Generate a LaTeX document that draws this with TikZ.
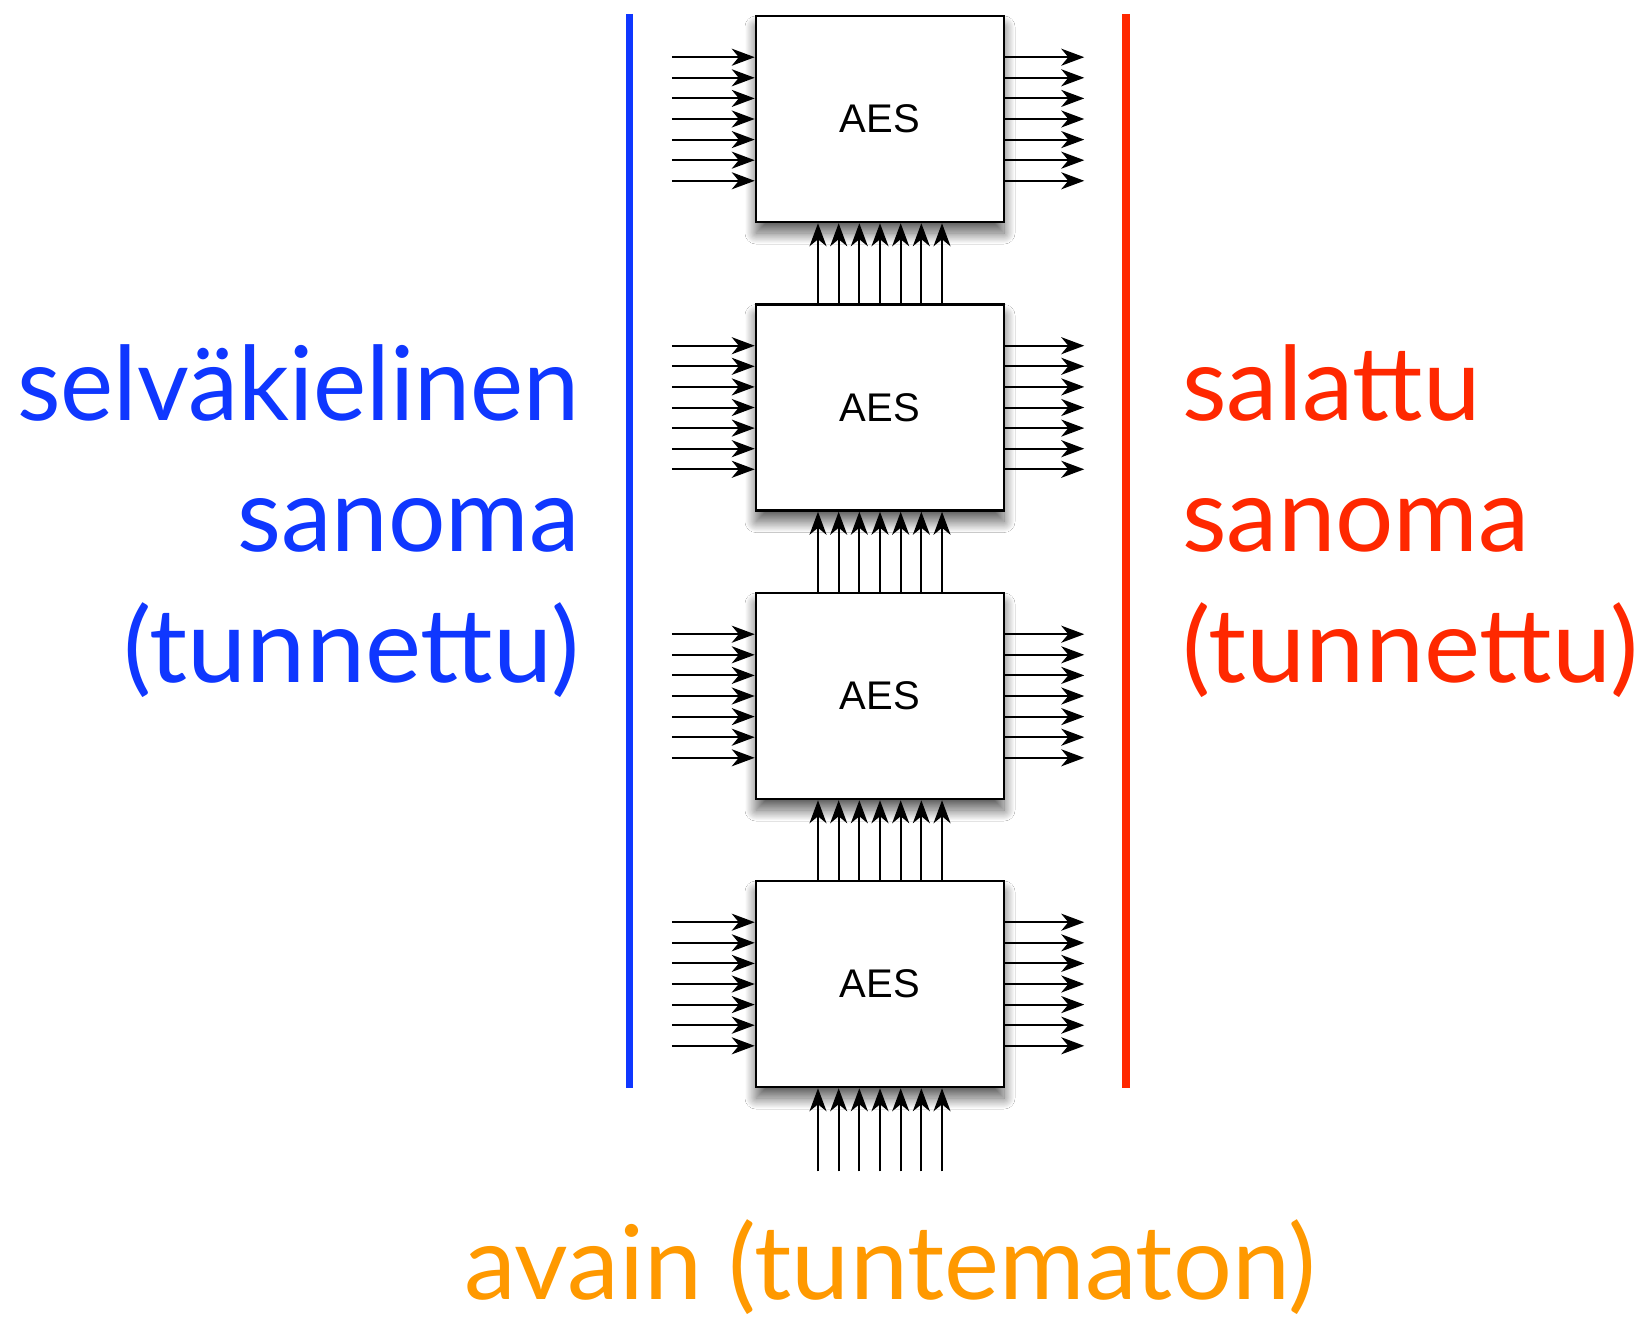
\documentclass[tikz,border=0pt]{standalone}
\usepackage{fontspec}
\setmainfont{Lato}
\newfontfamily\aesfont{Liberation Sans}
\usetikzlibrary{arrows.meta,shadows.blur,calc}
\definecolor{myblue}{HTML}{0F37FF}
\definecolor{myred}{HTML}{FF2800}
\definecolor{myorange}{HTML}{FF9900}
\tikzset{
  aesbox/.style={draw, line width=2.5pt, fill=white, minimum width=248pt, minimum height=206pt, inner sep=0pt,
    font=\aesfont\fontsize{40}{44}\selectfont,
    blur shadow={shadow xshift=0pt, shadow yshift=-11pt, shadow blur radius=11pt, shadow blur extra rounding=0pt, shadow blur steps=40, shadow opacity=65}},
  arr/.style={line width=2pt, -{Stealth[length=23pt, width=17pt, inset=7pt]}},
  bigtext/.style={font=\fontsize{103}{131}\selectfont, inner sep=0pt},
}
\begin{document}
\begin{tikzpicture}[x=1pt, y=-1pt]
\useasboundingbox[fill=white] (0,0) rectangle (1646,1319);
% vertical separator lines
\draw[myblue, line width=7.5pt] (629.5,14) -- (629.5,1087.5);
\draw[myred, line width=7.5pt] (1126,14) -- (1126,1087.5);
% boxes
\node[aesbox] (b1) at (880,119) {AES};
\node[aesbox] (b2) at (880,407.5) {AES};
\node[aesbox] (b3) at (880,696) {AES};
\node[aesbox] (b4) at (880,984) {AES};
% side arrows
\foreach \b in {b1,b2,b3,b4}{
  \foreach \j in {-3,...,3}{
    \draw[arr] ($(\b.west)+(-83,\j*20.6)$) -- ($(\b.west)+(0,\j*20.6)$);
    \draw[arr] ($(\b.east)+(0,\j*20.6)$) -- ($(\b.east)+(79,\j*20.6)$);
  }
}
% vertical arrows between boxes
\foreach \lo/\hi in {b2/b1,b3/b2,b4/b3}{
  \foreach \j in {-3,...,3}{
    \draw[arr] ($(\lo.north)+(\j*20.67,0)$) -- ($(\hi.south)+(\j*20.67,0)$);
  }
}
\foreach \j in {-3,...,3}{
  \coordinate (k\j) at ($(b4.south)+(\j*20.67,83)$);
  \draw[arr] (k\j) -- ($(b4.south)+(\j*20.67,0)$);
}
% texts
\node[bigtext, text=myblue, anchor=base east, xscale=0.976] (l1) at (580,420.7) {selväkielinen};
\node[bigtext, text=myblue, anchor=base east, xscale=0.985] (l2) at (580,551.7) {sanoma};
\node[bigtext, text=myblue, anchor=base east, xscale=1.03] (l3) at (580,682.7) {(tunnettu)};
\node[bigtext, text=myred, anchor=base west] (r1) at (1182,420.7) {salattu};
\node[bigtext, text=myred, anchor=base west] (r2) at (1182,551.7) {sanoma};
\node[bigtext, text=myred, anchor=base west, xscale=1.03] (r3) at (1182,682.7) {(tunnettu)};
\node[bigtext, text=myorange, anchor=base, xscale=1.01] (key) at (890,1299) {avain (tuntematon)};
\end{tikzpicture}
\end{document}
